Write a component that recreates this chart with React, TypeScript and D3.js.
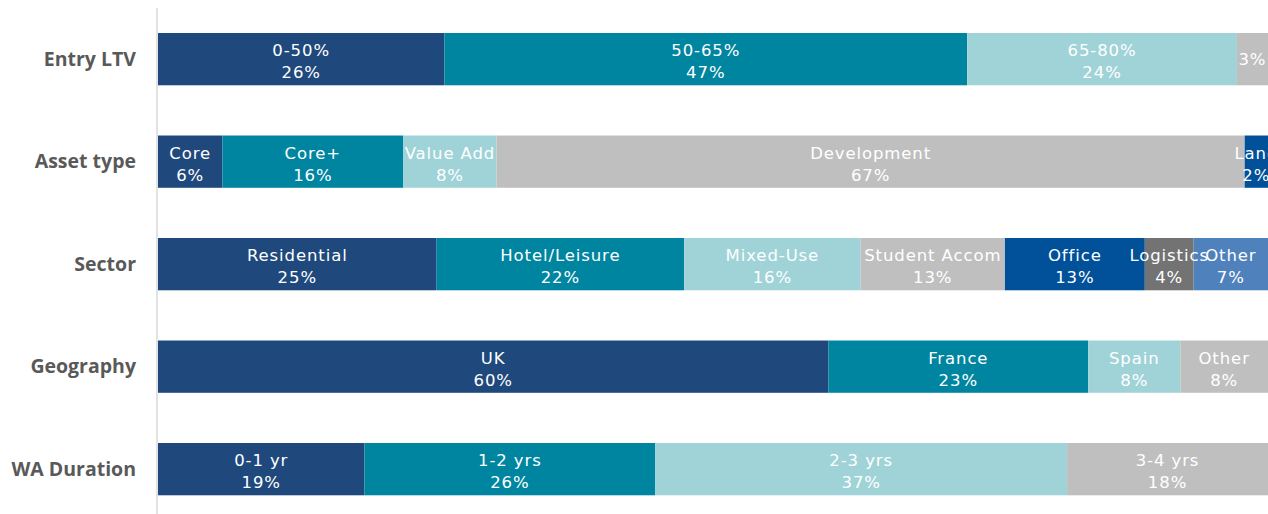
import React from "react";
import * as d3 from "d3";

const categories = ["Entry LTV", "Asset type", "Sector", "Geography", "WA Duration"];

const entryLtvNames = ["0-50%", "50-65%", "65-80%", ""];
const entryLtvValues = [25.8, 47.1, 24.3, 2.8];
const entryLtvColors = ["#1F497D", "#0085A1", "#9FD3D8", "#BFBFBF"];

const assetNames = ["Core", "Core+", "Value Add", "Development", "Land"];
const assetValues = [5.8, 16.3, 8.4, 67.4, 2.1];
const assetColors = ["#1F497D", "#0085A1", "#9FD3D8", "#BFBFBF", "#00519A"];

const sectorNames = ["Residential", "Hotel/Leisure", "Mixed-Use", "Student Accom", "Office", "Logistics", "Other"];
const sectorValues = [25.1, 22.3, 15.9, 13.0, 12.6, 4.4, 6.7];
const sectorColors = ["#1F497D", "#0085A1", "#9FD3D8", "#BFBFBF", "#00519A", "#737373", "#4F81BD"];

const geoNames = ["UK", "France", "Spain", "Other"];
const geoValues = [60.4, 23.4, 8.3, 7.9];
const geoColors = ["#1F497D", "#0085A1", "#9FD3D8", "#BFBFBF"];

const durationNames = ["0-1 yr", "1-2 yrs", "2-3 yrs", "3-4 yrs"];
const durationValues = [18.6, 26.2, 37.1, 18.1];
const durationColors = ["#1F497D", "#0085A1", "#9FD3D8", "#BFBFBF"];

const rows = [
  { cat: categories[0], names: entryLtvNames, values: entryLtvValues, colors: entryLtvColors },
  { cat: categories[1], names: assetNames, values: assetValues, colors: assetColors },
  { cat: categories[2], names: sectorNames, values: sectorValues, colors: sectorColors },
  { cat: categories[3], names: geoNames, values: geoValues, colors: geoColors },
  { cat: categories[4], names: durationNames, values: durationValues, colors: durationColors },
];

const W = 1268;
const H = 514;
const labelFont = "'DejaVu Sans', sans-serif";

export default function App() {
  const x = d3.scaleLinear().domain([0, 100]).range([158, 1268]);
  const y = d3
    .scaleBand<string>()
    .domain(categories)
    .range([7.9, 520.4])
    .paddingInner(0.49)
    .paddingOuter(0.245);
  const bw = y.bandwidth();
  const fmt = (v: number) => `${Math.round(v)}%`;

  return (
    <svg
      width={W}
      height={H}
      style={{ position: "absolute", left: 0, top: 0, background: "#fff" }}
    >
      <line x1={157} x2={157} y1={8} y2={H} stroke="#D9D9D9" strokeWidth={1.5} />
      {rows.map((r) => {
        const y0 = y(r.cat)!;
        let acc = 0;
        const segs = r.values.map((v, i) => {
          const s = { x0: acc, x1: acc + v, v, name: r.names[i], color: r.colors[i] };
          acc += v;
          return s;
        });
        return (
          <g key={r.cat}>
            <text
              x={136}
              y={y0 + bw / 2}
              dy="0.35em"
              textAnchor="end"
              fontFamily="'Open Sans', sans-serif"
              fontWeight={700}
              fontSize={19.5}
              fill="#595959"
            >
              {r.cat}
            </text>
            {segs.map((s, i) => (
              <rect
                key={i}
                x={x(s.x0)}
                y={y0}
                width={x(s.x1) - x(s.x0)}
                height={bw}
                fill={s.color}
              />
            ))}
            {segs.map((s, i) => {
              const cx = (x(s.x0) + x(s.x1)) / 2;
              return (
                <g
                  key={"t" + i}
                  fontFamily={labelFont}
                  fontSize={16.5}
                  letterSpacing={0.9}
                  fill="#FFFFFF"
                  textAnchor="middle"
                >
                  {s.name ? (
                    <>
                      <text x={cx} y={y0 + 23}>{s.name}</text>
                      <text x={cx} y={y0 + 45}>{fmt(s.v)}</text>
                    </>
                  ) : (
                    <text x={cx} y={y0 + bw / 2} dy="0.35em">{fmt(s.v)}</text>
                  )}
                </g>
              );
            })}
          </g>
        );
      })}
    </svg>
  );
}
